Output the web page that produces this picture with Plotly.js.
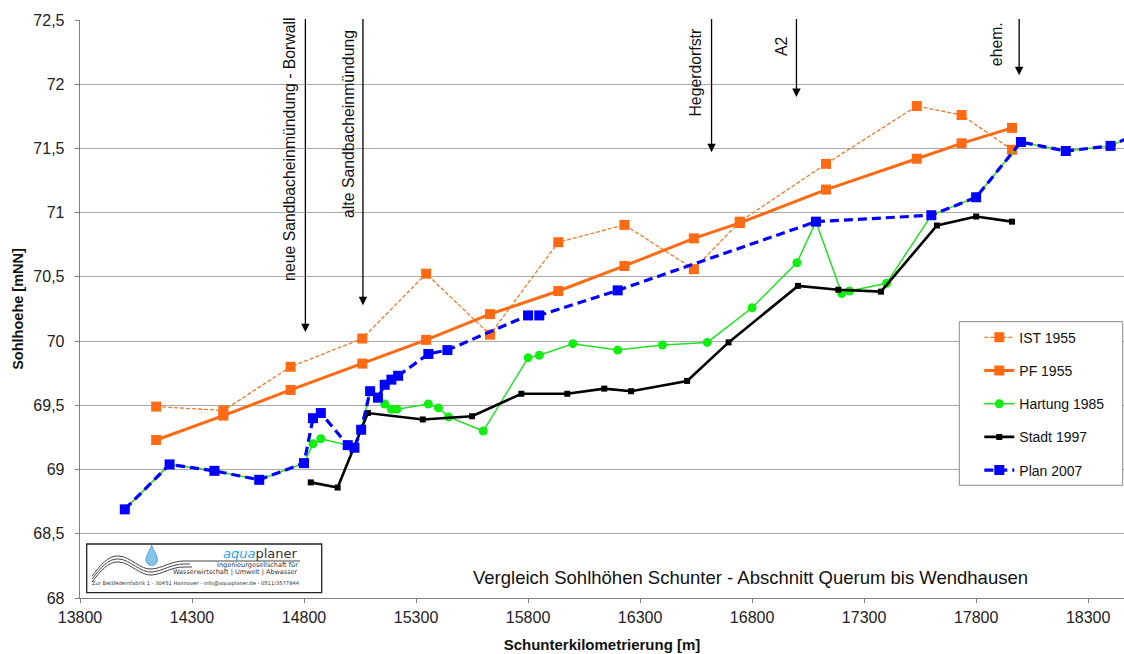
<!DOCTYPE html>
<html><head><meta charset="utf-8">
<script src="https://cdn.plot.ly/plotly-3.0.1.min.js"></script>
<style>html,body{margin:0;padding:0;background:#fff}#chart{width:1124px;height:654px}</style>
</head><body><div id="chart"></div>
<script>
// ---- data ----
const istKm = [14140, 14440, 14740, 15060, 15345, 15630, 15935, 16230, 16540, 16745, 17130, 17535, 17735, 17960];
const istH  = [69.49, 69.46, 69.80, 70.02, 70.525, 70.05, 70.77, 70.905, 70.56, 70.93, 71.38, 71.83, 71.76, 71.49];

const pfKm = [14140, 14440, 14740, 15060, 15345, 15630, 15935, 16230, 16540, 16745, 17130, 17535, 17735, 17960];
const pfH  = [69.23, 69.42, 69.62, 69.825, 70.01, 70.21, 70.39, 70.585, 70.80, 70.92, 71.18, 71.42, 71.54, 71.66];

const hartKm = [14000, 14200, 14400, 14600, 14800, 14840, 14875, 14995, 15025, 15055, 15095, 15160, 15190, 15215, 15355, 15400, 15445, 15600, 15800, 15850, 16000, 16200, 16400, 16600, 16800, 17000, 17085, 17200, 17235, 17400, 17600, 17800, 18000, 18200, 18400, 18600];
const hartH  = [68.69, 69.04, 68.99, 68.92, 69.05, 69.20, 69.24, 69.19, 69.17, 69.31, 69.61, 69.51, 69.47, 69.47, 69.51, 69.48, 69.41, 69.30, 69.87, 69.89, 69.98, 69.93, 69.97, 69.99, 70.26, 70.61, 70.93, 70.37, 70.39, 70.45, 70.98, 71.12, 71.55, 71.48, 71.52, 71.68];

const stadtKm = [14830, 14950, 15085, 15330, 15550, 15770, 15975, 16140, 16260, 16510, 16695, 17005, 17185, 17375, 17625, 17800, 17960];
const stadtH  = [68.90, 68.86, 69.44, 69.39, 69.415, 69.59, 69.59, 69.63, 69.61, 69.69, 69.99, 70.43, 70.40, 70.385, 70.90, 70.97, 70.93];

const planKm = [14000, 14200, 14400, 14600, 14800, 14840, 14875, 14995, 15025, 15055, 15095, 15130, 15160, 15190, 15220, 15355, 15440, 15800, 15850, 16200, 17085, 17600, 17800, 18000, 18200, 18400, 18600];
const planH  = [68.69, 69.04, 68.99, 68.92, 69.05, 69.40, 69.44, 69.19, 69.17, 69.31, 69.61, 69.56, 69.66, 69.70, 69.73, 69.90, 69.93, 70.20, 70.20, 70.395, 70.93, 70.98, 71.12, 71.55, 71.48, 71.52, 71.68];

const seriesNames = ['IST 1955', 'PF 1955', 'Hartung 1985', 'Stadt 1997', 'Plan 2007'];

const xTickVals = [13800, 14300, 14800, 15300, 15800, 16300, 16800, 17300, 17800, 18300];
const xTickText = ['13800', '14300', '14800', '15300', '15800', '16300', '16800', '17300', '17800', '18300'];
const yTickVals = [68, 68.5, 69, 69.5, 70, 70.5, 71, 71.5, 72, 72.5];
const yTickText = ['68', '68,5', '69', '69,5', '70', '70,5', '71', '71,5', '72', '72,5'];

const stationNames = ['neue Sandbacheinmündung - Borwall', 'alte Sandbacheinmündung', 'Hegerdorfstr', 'A2', 'ehem.'];
const stationKm    = [14806, 15063, 16619, 16998, 17992];
const stationTipH  = [70.07, 70.28, 71.47, 71.90, 72.07];

const titleText = 'Vergleich Sohlhöhen Schunter - Abschnitt Querum bis Wendhausen';
const xTitle = 'Schunterkilometrierung [m]';
const yTitle = 'Sohlhoehe [mNN]';

// ---- styling ----
const FONT = 'Liberation Sans, Arial, sans-serif';
const ORANGE = '#FF6A13';
const traces = [
  {x: pfKm, y: pfH, name: seriesNames[1], mode: 'lines+markers',
   line: {color: ORANGE, width: 3}, marker: {symbol: 'square', size: 10, color: ORANGE}},
  {x: istKm, y: istH, name: seriesNames[0], mode: 'lines+markers',
   line: {color: '#F07A2A', width: 1.3, dash: '4px,2px'}, marker: {symbol: 'square', size: 10, color: ORANGE}},
  {x: hartKm, y: hartH, name: seriesNames[2], mode: 'lines+markers',
   line: {color: '#22E022', width: 1.5}, marker: {symbol: 'circle', size: 9, color: '#11EE11'}},
  {x: stadtKm, y: stadtH, name: seriesNames[3], mode: 'lines+markers',
   line: {color: '#000000', width: 2.6}, marker: {symbol: 'square', size: 6, color: '#000000'}},
  {x: planKm, y: planH, name: seriesNames[4], mode: 'lines+markers',
   line: {color: '#0000FF', width: 3.2, dash: '9px,5px'}, marker: {symbol: 'square', size: 10, color: '#0000FF'}}
];
const legendRank = {'IST 1955': 1, 'PF 1955': 2, 'Hartung 1985': 3, 'Stadt 1997': 4, 'Plan 2007': 5};
traces.forEach(t => { t.type = 'scatter'; t.hoverinfo = 'skip'; t.legendrank = legendRank[t.name]; t.legendgroup = t.name; });

// pixel -> paper helpers for decorations (plot area: x 80..1124, y 20..598)
const PX = px => (px - 80) / 1044;
const PY = py => (598 - py) / 578;
function pth(cmds) {
  return cmds.map(c => typeof c === 'string' ? c : PX(c[0]).toFixed(5) + ',' + PY(c[1]).toFixed(5)).join(' ');
}
function wave(dy, endX) {
  return pth(['M', [92, 576 + dy], 'C', [100, 566 + dy], [108, 555 + dy], [119, 556 + dy],
              'C', [131, 557 + dy], [140, 570 + dy], [152, 569 + dy],
              'C', [163, 568 + dy], [171, 561 + dy], [184, 561 + dy], 'L', [endX, 561 + dy]]);
}
const shapes = [
  // legend frame
  {type: 'rect', xref: 'paper', yref: 'paper', x0: PX(959.3), x1: PX(1122.7), y0: PY(485.3), y1: PY(321.7),
   line: {color: '#8a8a8a', width: 1}, fillcolor: '#ffffff', layer: 'above'},
  // logo
  {type: 'rect', xref: 'paper', yref: 'paper', x0: PX(86.7), x1: PX(321.7), y0: PY(592.7), y1: PY(544),
   line: {color: '#222', width: 1.3}, fillcolor: 'rgba(255,255,255,1)'},
  {type: 'path', xref: 'paper', yref: 'paper', path: wave(0, 300), line: {color: '#444', width: 1}},
  {type: 'path', xref: 'paper', yref: 'paper', path: wave(3, 190), line: {color: '#444', width: 1}},
  {type: 'path', xref: 'paper', yref: 'paper', path: wave(6, 192), line: {color: '#444', width: 1}},
  {type: 'path', xref: 'paper', yref: 'paper',
   path: pth(['M', [151.7, 545], 'C', [153, 551], [157.5, 554], [157.5, 559.5], 'C', [157.5, 563], [155, 565.5], [151.7, 565.5],
              'C', [148.4, 565.5], [145.9, 563], [145.9, 559.5], 'C', [145.9, 554], [150.4, 551], [151.7, 545], 'Z']),
   line: {color: '#4f97c9', width: 0.8}, fillcolor: '#86c3ec'}
];

const annotations = [];
// station arrows and labels
const labelShift = [-16, -15, -17, -15, -23];
const labelDrop  = [4, -8, -7, -15, 0];
stationNames.forEach((n, i) => {
  annotations.push({x: stationKm[i], y: stationTipH[i], xref: 'x', yref: 'y', text: '', showarrow: true,
    axref: 'x', ayref: 'y', ax: stationKm[i], ay: 72.52, arrowhead: 2, arrowsize: 1.3, arrowwidth: 1.3, arrowcolor: '#000'});
  annotations.push({x: stationKm[i], y: 1, xref: 'x', yref: 'paper', text: n, showarrow: false, textangle: -90,
    xanchor: 'center', yanchor: 'top', xshift: labelShift[i], yshift: labelDrop[i],
    font: {family: FONT, size: 15.8, color: '#111'}});
});
// chart caption
annotations.push({x: PX(750), y: PY(577), xref: 'paper', yref: 'paper', text: titleText, showarrow: false,
  xanchor: 'center', yanchor: 'middle', font: {family: FONT, size: 18.5, color: '#111'}});
// logo texts
annotations.push({x: PX(300), y: PY(553), xref: 'paper', yref: 'paper', showarrow: false, xanchor: 'right', yanchor: 'middle',
  text: '<i><span style="color:#2fa3e6">aqua</span></i><span style="color:#333">planer</span>', font: {family: 'DejaVu Sans, sans-serif', size: 13}});
annotations.push({x: PX(300), y: PY(565), xref: 'paper', yref: 'paper', showarrow: false, xanchor: 'right', yanchor: 'middle',
  text: 'Ingenieurgesellschaft für', font: {family: 'DejaVu Sans, sans-serif', size: 6.5, color: '#333'}});
annotations.push({x: PX(300), y: PY(571.5), xref: 'paper', yref: 'paper', showarrow: false, xanchor: 'right', yanchor: 'middle',
  text: 'Wasserwirtschaft | Umwelt | Abwasser', font: {family: 'DejaVu Sans, sans-serif', size: 6.5, color: '#333'}});
annotations.push({x: PX(196), y: PY(583.5), xref: 'paper', yref: 'paper', showarrow: false, xanchor: 'center', yanchor: 'middle',
  text: 'Zur Bettfedernfabrik 1 - 30451 Hannover - info@aquaplaner.de - 0511/3577844', font: {family: 'DejaVu Sans, sans-serif', size: 5.2, color: '#333'}});

const layout = {
  width: 1124, height: 654,
  margin: {l: 80, r: 0, t: 20, b: 56, pad: 0},
  paper_bgcolor: '#fff', plot_bgcolor: '#fff',
  font: {family: FONT, size: 16, color: '#222'},
  showlegend: true,
  hovermode: false,
  xaxis: {range: [13800, 18460], tickvals: xTickVals, ticktext: xTickText, showgrid: false, zeroline: false,
    showline: true, linecolor: '#7f7f7f', linewidth: 1.3, ticks: 'outside', ticklen: 4, tickcolor: '#7f7f7f',
    tickfont: {size: 16, color: '#222'},
    title: {text: xTitle, font: {family: FONT, size: 15, color: '#111', weight: 'bold'}, standoff: 15}},
  yaxis: {range: [68, 72.5], tickvals: yTickVals, ticktext: yTickText, showgrid: true, gridcolor: '#a9a9a9', gridwidth: 1,
    zeroline: false, showline: true, linecolor: '#7f7f7f', linewidth: 1.3, ticks: 'outside', ticklen: 4, tickcolor: '#7f7f7f',
    tickfont: {size: 16, color: '#222'}, ticklabelstandoff: 7,
    title: {text: yTitle, font: {family: FONT, size: 14.5, color: '#111', weight: 'bold'}, standoff: 6}},
  legend: {x: PX(959.3), y: PY(321.7), xanchor: 'left', yanchor: 'top', bgcolor: 'rgba(0,0,0,0)', borderwidth: 0,
    font: {family: FONT, size: 14, color: '#111'}, traceorder: 'grouped', tracegroupgap: 12, itemwidth: 30,
    indentation: 20},
  shapes: shapes,
  annotations: annotations
};

Plotly.newPlot('chart', traces, layout, {displayModeBar: false, staticPlot: true});
</script>
</body></html>
